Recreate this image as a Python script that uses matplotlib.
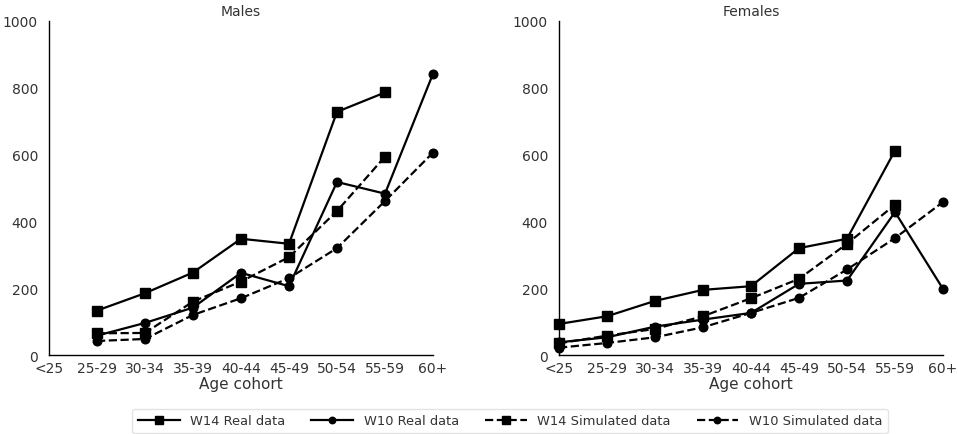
import matplotlib
matplotlib.use("Agg")
import matplotlib.pyplot as plt
import numpy as np

categories = ["<25", "25-29", "30-34", "35-39", "40-44", "45-49", "50-54", "55-59", "60+"]

# Males (None = missing)
m_w14_real = [None, 133, 185, 247, 348, 333, 728, 786, None]
m_w10_real = [None, 58, 96, 142, 246, 206, 518, 483, 842]
m_w14_sim = [None, 65, 66, 160, 220, 293, 431, 594, None]
m_w10_sim = [None, 42, 48, 120, 170, 230, 320, 461, 606]

# Females
f_w14_real = [93, 116, 162, 195, 206, 320, 348, 612, None]
f_w10_real = [38, 53, 85, 106, 126, 213, 223, 428, 198]
f_w14_sim = [35, 58, 78, 116, 170, 228, 333, 450, None]
f_w10_sim = [22, 36, 53, 83, 126, 171, 256, 350, 458]

series_labels = ["W14 Real data", "W10 Real data", "W14 Simulated data", "W10 Simulated data"]

plt.rcParams['font.family'] = ['DejaVu Sans']
text_color = '#333333'
plt.rcParams['text.color'] = text_color
plt.rcParams['axes.labelcolor'] = text_color
plt.rcParams['xtick.color'] = text_color
plt.rcParams['ytick.color'] = text_color

fig = plt.figure(figsize=(9.58, 4.35), dpi=100)
W, H = 958, 435
ax1 = fig.add_axes([49 / W, 1 - 356 / H, (433 - 49) / W, (356 - 22) / H])
ax2 = fig.add_axes([559 / W, 1 - 356 / H, (943 - 559) / W, (356 - 22) / H])

styles = [
    dict(linestyle='-', marker='s', markersize=7.5),
    dict(linestyle='-', marker='o', markersize=6.2),
    dict(linestyle='--', marker='s', markersize=7.5),
    dict(linestyle='--', marker='o', markersize=6.2),
]

def to_arr(v):
    return np.array([np.nan if x is None else x for x in v], dtype=float)

x = np.arange(len(categories))
handles = []
for ax, data, title in [
    (ax1, [m_w14_real, m_w10_real, m_w14_sim, m_w10_sim], "Males"),
    (ax2, [f_w14_real, f_w10_real, f_w14_sim, f_w10_sim], "Females"),
]:
    hs = []
    for d, st, lab in zip(data, styles, series_labels):
        h, = ax.plot(x, to_arr(d), color='black', linewidth=1.6, label=lab, **st)
        h.set_clip_on(False)
        hs.append(h)
    handles = hs
    ax.set_xlim(0, len(categories) - 1)
    ax.set_ylim(0, 1000)
    ax.set_xticks(x)
    ax.set_xticklabels(categories, fontsize=10)
    ax.set_yticks([0, 200, 400, 600, 800, 1000])
    ax.tick_params(axis='y', labelsize=10, length=0, pad=8)
    ax.tick_params(axis='x', length=0, pad=4)
    ax.set_title(title, fontsize=10, pad=4)
    ax.set_xlabel("Age cohort", fontsize=11, labelpad=1)
    for s in ['top', 'right']:
        ax.spines[s].set_visible(False)
    for s in ['left', 'bottom']:
        ax.spines[s].set_color('black')
        ax.spines[s].set_linewidth(1.0)
    ax.set_facecolor('white')

fig.legend(handles=handles, labels=series_labels, loc='center', ncol=4,
           bbox_to_anchor=(510 / W, 1 - 422 / H), fontsize=9.4, frameon=True,
           handlelength=3.2, columnspacing=2.0, borderpad=0.45, markerscale=0.75,
           edgecolor='#dddddd')

fig.savefig("out.png", dpi=100)
